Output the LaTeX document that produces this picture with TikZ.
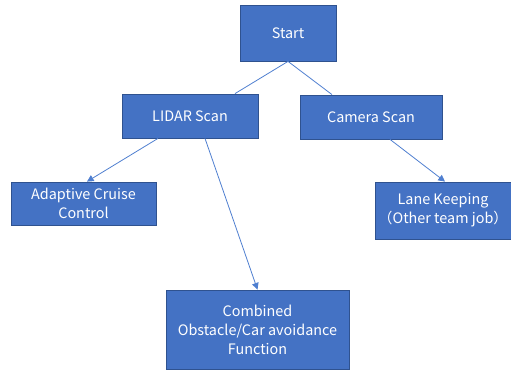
\documentclass[tikz,border=0pt]{standalone}
\usepackage{fontspec}
\setmainfont{Noto Sans CJK SC}
\usepackage{xcolor}
\usetikzlibrary{arrows.meta}
\definecolor{boxfill}{HTML}{4472C4}
\definecolor{boxedge}{HTML}{2F528F}
\definecolor{linkcol}{HTML}{4F7FD0}

\begin{document}
\begin{tikzpicture}[
  x=0.75pt, y=-0.75pt,
  font=\fontsize{10.8}{14.2}\selectfont,
  box/.style={draw=boxedge, line width=0.6pt, fill=boxfill, text=white,
              align=center, inner sep=2pt},
  link/.style={draw=linkcol, line width=0.6pt},
  arrow/.style={link, -{Triangle[length=5pt, width=5pt]}}
]
\useasboundingbox (0,0) rectangle (511,370);

% ===== nodes =====
\node[box, minimum width=72pt, minimum height=42pt] (start) at (288,33) {Start};
\node[box, minimum width=102pt, minimum height=33pt] (lidar) at (190,116) {LIDAR Scan};
\node[box, minimum width=106.5pt, minimum height=33pt] (camera) at (371,117) {Camera Scan};
\node[box, minimum width=108.75pt, minimum height=32.25pt] (acc) at (83.5,203.5) {Adaptive Cruise\\Control};
\node[box, minimum width=102pt, minimum height=42.75pt] (lane) at (443,210.5) {Lane Keeping\\（Other team job）};
\node[box, minimum width=137.25pt, minimum height=59.25pt] (combined) at (257.5,329.5) {Combined\\Obstacle/Car avoidance\\Function};

% ===== connectors =====
\draw[link] (start.south) -- ([xshift=33.75pt]lidar.north);
\draw[link] (start.south) -- ([xshift=-29.25pt]camera.north);
\draw[arrow] ([xshift=-24pt]lidar.south) -- ([xshift=2.6pt]acc.north);
\draw[arrow] ([xshift=11.25pt]lidar.south) -- (combined.north);
\draw[arrow] ([xshift=14.25pt]camera.south) -- ([xshift=1.5pt]lane.north);

\end{tikzpicture}
\end{document}
